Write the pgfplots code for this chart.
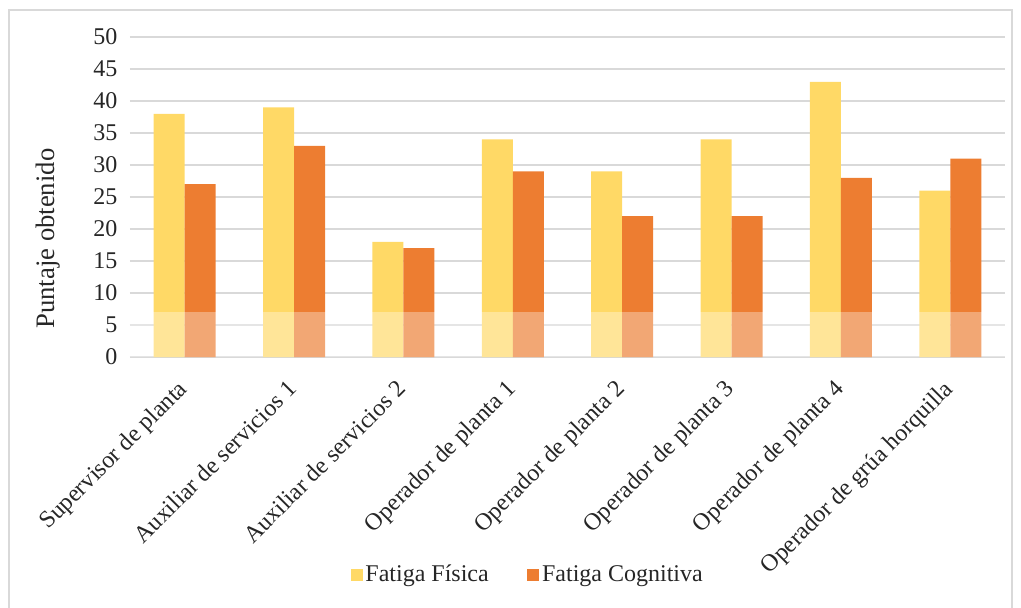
\documentclass[border=0pt]{standalone}
\usepackage{fontspec}
\setmainfont{Liberation Serif}
\usepackage{pgfplots}
\pgfplotsset{compat=1.18}
\definecolor{fis}{HTML}{FFD966}
\definecolor{cog}{HTML}{ED7D31}
\definecolor{gridc}{HTML}{D9D9D9}
\definecolor{txt}{HTML}{262626}
\begin{document}
\begin{tikzpicture}
\path[use as bounding box] (-97.5pt,-187.5pt) rectangle (668.25pt,267.75pt);
\draw[gridc, line width=1pt] (-90.75pt,-195pt) rectangle (661.5pt,260.25pt);
\begin{axis}[
  at={(0pt,0pt)}, anchor=south west,
  width=656.25pt, height=240pt, scale only axis,
  ymin=0, ymax=50, ytick={0,5,...,50},
  xmin=-0.5, xmax=7.5,
  ybar=0pt, bar width=23.25pt,
  axis line style={draw=none}, major tick length=0pt,
  ymajorgrids, grid style={gridc, line width=1pt},
  xtick={0,...,7},
  xticklabels={Supervisor de planta, Auxiliar de servicios 1, Auxiliar de servicios 2, Operador de planta 1, Operador de planta 2, Operador de planta 3, Operador de planta 4, Operador de grúa horquilla},
  /pgf/number format/assume math mode=true,
  tick label style={font=\fontsize{18}{20}\selectfont, text=txt},
  yticklabel style={xshift=-6pt},
  xticklabel style={yshift=-16pt, xshift=-6pt, rotate=45, anchor=north east, inner sep=0pt},
  ylabel={Puntaje obtenido},
  ylabel style={at={(rel axis cs:-0.0937,0.37)}, anchor=center, rotate=0, font=\fontsize{20}{22}\selectfont, text=txt},
  legend style={at={(rel axis cs:0.455,-0.68)}, anchor=center, draw=none, fill=none, legend columns=2,
    font=\fontsize{18}{20}\selectfont, text=txt,
    /tikz/every even column/.append style={column sep=27pt}},
  legend image code/.code={\fill[#1] (0pt,-4.5pt) rectangle (9pt,4.5pt);},
]
\addplot[fill=fis, draw=none] coordinates {(0,38) (1,39) (2,18) (3,34) (4,29) (5,34) (6,43) (7,26)};
\addplot[fill=cog, draw=none] coordinates {(0,27) (1,33) (2,17) (3,29) (4,22) (5,22) (6,28) (7,31)};
\legend{Fatiga Física, Fatiga Cognitiva}
\fill[white, opacity=0.33] (axis cs:-0.5,0) rectangle (axis cs:7.5,7);
\end{axis}
\end{tikzpicture}
\end{document}
